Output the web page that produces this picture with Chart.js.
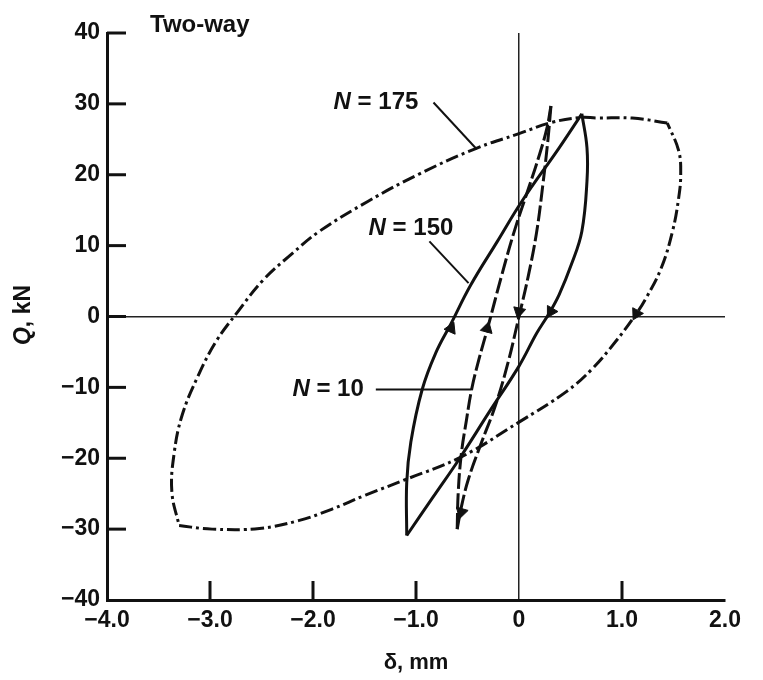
<!DOCTYPE html>
<html>
<head>
<meta charset="utf-8">
<title>Two-way</title>
<script src="https://cdn.jsdelivr.net/npm/chart.js@4.4.1/dist/chart.umd.min.js"></script>
<style>
  body { margin: 0; background: #fff; }
  #wrap { width: 763px; height: 680px; position: relative; }
</style>
</head>
<body>
<div id="wrap"><canvas id="myChart"></canvas></div>
<script>
// values: delta in mm (x), Q in kN (y)
// each loop is split in two branches so the corners stay sharp
const n175RiseX = [-3.30, -2.98, -2.52, -2.14, -1.82, -1.49, -1.10, -0.56, 0.00, 0.46, 0.71, 0.94, 1.12, 1.23, 1.38, 1.49, 1.55, 1.57, 1.55, 1.44];
const n175RiseY = [-29.5, -30.0, -29.9, -28.8, -27.2, -25.2, -23.0, -19.8, -14.9, -10.6, -7.4, -3.5, 0.0, 2.5, 6.8, 12.0, 16.7, 20.1, 23.4, 27.3];
const n175FallX = [1.44, 1.10, 0.75, 0.61, 0.32, 0.00, -0.42, -0.97, -1.46, -1.94, -2.20, -2.48, -2.75, -2.94, -3.11, -3.27, -3.35, -3.37, -3.30];
const n175FallY = [27.3, 28.0, 28.0, 28.1, 27.4, 25.8, 23.7, 20.1, 16.3, 12.0, 8.9, 5.2, 0.3, -3.5, -8.2, -13.9, -19.5, -24.8, -29.5];

const n150RiseX = [-1.09, -1.09, -1.05, -0.94, -0.81, -0.66, -0.47, -0.21, 0.03, 0.39, 0.61];
const n150RiseY = [-30.9, -23.4, -17.7, -10.3, -5.2, -1.0, 4.4, 10.6, 16.3, 23.8, 28.6];
const n150FallX = [0.61, 0.66, 0.66, 0.61, 0.51, 0.39, 0.29, 0.17, 0.00, -0.29, -0.58, -0.84, -1.09];
const n150FallY = [28.6, 23.8, 19.1, 12.0, 7.4, 3.1, 0.4, -2.4, -7.0, -13.5, -20.1, -25.6, -30.9];

const n10RiseX = [-0.60, -0.59, -0.56, -0.51, -0.46, -0.39, -0.30, -0.17, -0.04, 0.10, 0.20, 0.27, 0.31];
const n10RiseY = [-30.0, -24.8, -19.4, -14.6, -10.3, -6.1, -1.4, 5.7, 12.3, 18.4, 22.9, 26.5, 29.7];
const n10FallX = [0.31, 0.28, 0.23, 0.17, 0.09, 0.00, -0.11, -0.23, -0.37, -0.49, -0.56, -0.60];
const n10FallY = [29.7, 24.8, 18.4, 11.8, 5.7, 0.0, -6.7, -12.6, -18.0, -22.9, -26.9, -30.0];

// arrow heads on the loops (direction in degrees, clockwise from up)
const arrowX = [1.14, -0.66, 0.31, -0.31, 0.00, -0.56];
const arrowY = [0.4, -1.7, 0.7, -1.7, 0.7, -27.6];
const arrowDir = [208, 24, 210, 15, 192, 196];

const xTickLabels = ['\u22124.0', '\u22123.0', '\u22122.0', '\u22121.0', '0', '1.0', '2.0'];
const yTickLabels = ['\u221240', '\u221230', '\u221220', '\u221210', '0', '10', '20', '30', '40'];

const ink = '#111';
const fontFamily = "'Liberation Sans', Arial, Helvetica, sans-serif";

function pts(xs, ys) {
    return xs.map(function (x, i) { return { x: x, y: ys[i] }; });
}

function branch(xs, ys, dash) {
    return {
        data: pts(xs, ys),
        borderColor: ink,
        borderWidth: 3,
        borderDash: dash,
        pointRadius: 0,
        tension: 0.4,
        fill: false,
        showLine: true
    };
}

const dashDot = [13, 4, 3, 4];
const dashed = [16, 4];

// labels with leaders, placed in data units
const notes = [
    { label: ' = 175', at: [-1.80, 30.2], from: [-0.83, 30.2], to: [-0.41, 23.6] },
    { label: ' = 150', at: [-1.46, 12.5], from: [-0.87, 10.6], to: [-0.49, 4.7] },
    { label: ' = 10', at: [-2.20, -10.3], from: [-1.39, -10.3], to: [-0.46, -10.3] }
];

const decorations = {
    id: 'decorations',
    afterDraw: function (chart) {
        const ctx = chart.ctx;
        const xs = chart.scales.x;
        const ys = chart.scales.y;
        const area = chart.chartArea;
        ctx.save();
        ctx.strokeStyle = ink;
        ctx.fillStyle = ink;
        ctx.lineCap = 'butt';

        // inward tick marks
        ctx.lineWidth = 3;
        xs.ticks.forEach(function (t) {
            if (t.value > xs.min && t.value < xs.max && t.value !== 0) {
                const px = xs.getPixelForValue(t.value);
                ctx.beginPath();
                ctx.moveTo(px, area.bottom);
                ctx.lineTo(px, area.bottom - 19);
                ctx.stroke();
            }
        });
        ys.ticks.forEach(function (t) {
            if (t.value > ys.min) {
                const py = ys.getPixelForValue(t.value);
                ctx.beginPath();
                ctx.moveTo(area.left, py);
                ctx.lineTo(area.left + 19, py);
                ctx.stroke();
            }
        });

        // N labels and leader lines
        ctx.lineWidth = 2;
        ctx.textBaseline = 'middle';
        ctx.textAlign = 'left';
        notes.forEach(function (n) {
            ctx.beginPath();
            ctx.moveTo(xs.getPixelForValue(n.from[0]), ys.getPixelForValue(n.from[1]));
            ctx.lineTo(xs.getPixelForValue(n.to[0]), ys.getPixelForValue(n.to[1]));
            ctx.stroke();
            const tx = xs.getPixelForValue(n.at[0]);
            const ty = ys.getPixelForValue(n.at[1]);
            ctx.font = 'italic bold 24px ' + fontFamily;
            ctx.fillText('N', tx, ty);
            const w = ctx.measureText('N').width;
            ctx.font = 'bold 24px ' + fontFamily;
            ctx.fillText(n.label, tx + w, ty);
        });

        // panel title
        ctx.font = 'bold 24px ' + fontFamily;
        ctx.fillText('Two-way', 150, 25);

        // y axis title, italic Q
        ctx.translate(24, 315);
        ctx.rotate(-Math.PI / 2);
        ctx.font = 'italic bold 23px ' + fontFamily;
        const wq = ctx.measureText('Q').width;
        ctx.font = 'bold 23px ' + fontFamily;
        const wr = ctx.measureText(', kN').width;
        const start = -(wq + wr) / 2;
        ctx.font = 'italic bold 23px ' + fontFamily;
        ctx.fillText('Q', start, 0);
        ctx.font = 'bold 23px ' + fontFamily;
        ctx.fillText(', kN', start + wq, 0);
        ctx.restore();
    }
};

const zeroLine = function (c) {
    return c.tick && c.tick.value === 0 ? '#222' : 'rgba(0,0,0,0)';
};

new Chart(document.getElementById('myChart').getContext('2d'), {
    type: 'scatter',
    data: {
        datasets: [
            branch(n175RiseX, n175RiseY, dashDot),
            branch(n175FallX, n175FallY, dashDot),
            branch(n150RiseX, n150RiseY, []),
            branch(n150FallX, n150FallY, []),
            branch(n10RiseX, n10RiseY, dashed),
            branch(n10FallX, n10FallY, dashed),
            {
                data: pts(arrowX, arrowY),
                showLine: false,
                pointStyle: 'triangle',
                pointRadius: 7,
                pointRotation: arrowDir,
                backgroundColor: ink,
                borderColor: ink,
                borderWidth: 1
            }
        ]
    },
    options: {
        responsive: true,
        maintainAspectRatio: false,
        animation: false,
        layout: { padding: { top: 33, right: 38, bottom: 0, left: 0 } },
        plugins: {
            legend: { display: false },
            tooltip: { enabled: false }
        },
        scales: {
            x: {
                type: 'linear',
                min: -4,
                max: 2,
                ticks: {
                    stepSize: 1,
                    padding: 7,
                    color: ink,
                    font: { family: fontFamily, size: 23, weight: 'bold' },
                    callback: function (v, i) { return xTickLabels[i]; }
                },
                grid: { drawTicks: false, color: zeroLine, lineWidth: 1.5 },
                border: { display: true, color: ink, width: 3 },
                title: {
                    display: true,
                    text: '\u03b4, mm',
                    color: ink,
                    padding: { top: 14 },
                    font: { family: fontFamily, size: 22, weight: 'bold' }
                },
                afterFit: function (s) { s.height = 80; }
            },
            y: {
                type: 'linear',
                min: -40,
                max: 40,
                ticks: {
                    stepSize: 10,
                    padding: 7,
                    color: ink,
                    font: { family: fontFamily, size: 23, weight: 'bold' },
                    callback: function (v, i) { return yTickLabels[i]; }
                },
                grid: { drawTicks: false, color: zeroLine, lineWidth: 1.5 },
                border: { display: true, color: ink, width: 3 },
                afterFit: function (s) { s.width = 107; }
            }
        }
    },
    plugins: [decorations]
});
</script>
</body>
</html>
